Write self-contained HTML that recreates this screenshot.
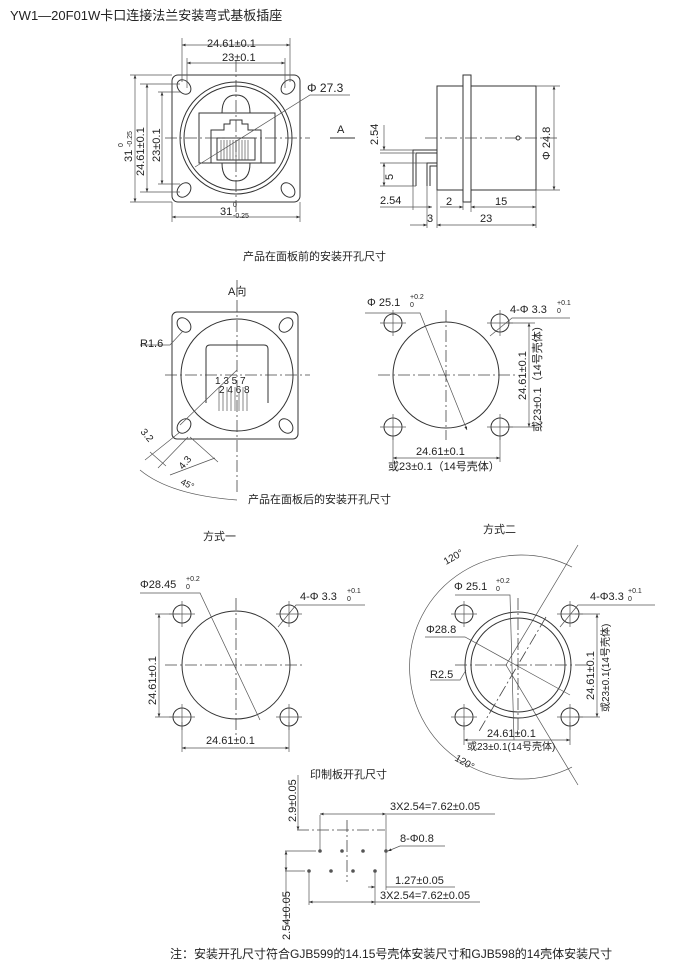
<!DOCTYPE html>
<html><head><meta charset="utf-8"><style>
html,body{margin:0;padding:0;background:#fff;}
svg{display:block;}
text{font-family:"Liberation Sans","Noto Sans CJK SC",sans-serif;fill:#222;}
.l{stroke:#333;stroke-width:1;fill:none;}
.t{stroke:#555;stroke-width:0.7;fill:none;}
.c{stroke:#444;stroke-width:0.8;fill:none;stroke-dasharray:12 3 2 3;}
</style></head><body>
<svg width="700" height="970" viewBox="0 0 700 970" xmlns="http://www.w3.org/2000/svg">
<defs><marker id="a" markerWidth="6" markerHeight="6" refX="5" refY="3" orient="auto-start-reverse"><path d="M0,1 L5,3 L0,5z" fill="#333"/></marker></defs>
<text x="10" y="20" font-size="13" fill="#444">YW1—20F01W卡口连接法兰安装弯式基板插座</text>

<!-- front view -->
<rect class="l" x="172" y="75" width="128" height="127" rx="6"/>
<circle class="l" cx="236" cy="138" r="56"/>
<circle class="l" cx="236" cy="138" r="52"/>
<g class="l">
<ellipse cx="184" cy="87" rx="6" ry="8" transform="rotate(-40 184 87)"/>
<ellipse cx="288" cy="87" rx="6" ry="8" transform="rotate(40 288 87)"/>
<ellipse cx="184" cy="190" rx="6" ry="8" transform="rotate(40 184 190)"/>
<ellipse cx="288" cy="190" rx="6" ry="8" transform="rotate(-40 288 190)"/>
<path d="M222,113 Q222,95 236,95 Q250,95 250,113"/><path d="M222,163 Q222,181 236,181 Q250,181 250,163"/>
<rect x="199" y="113" width="76" height="50"/>
<path d="M211,163 V130 H224 V124 H230 V120 H242 V124 H248 V130 H261 V163"/>
<rect x="217" y="138" width="38" height="22"/>
</g>
<g class="t"><path d="M221,140 v20 M224,140 v20 M227,140 v20 M230,140 v20 M233,140 v20 M236,140 v20 M239,140 v20 M242,140 v20 M245,140 v20 M248,140 v20"/></g>
<path class="c" d="M165,138 H310 M236,60 V215"/>
<path class="t" d="M195,167 L310,95 H350"/>
<text x="307" y="92" font-size="12">Φ 27.3</text>
<g class="t">
<path d="M182,82 V38 M290,82 V38 M187,88 V58 M285,88 V58"/>
<path d="M182,45 H290" marker-start="url(#a)" marker-end="url(#a)"/>
<path d="M187,63 H285" marker-start="url(#a)" marker-end="url(#a)"/>
<path d="M172,75 H130 M172,202 H130 M180,84 H140 M180,192 H140 M180,92 H158 M180,184 H158"/>
<path d="M135,75 V202" marker-start="url(#a)" marker-end="url(#a)"/>
<path d="M147,84 V192" marker-start="url(#a)" marker-end="url(#a)"/>
<path d="M162,92 V184" marker-start="url(#a)" marker-end="url(#a)"/>
<path d="M172,202 V222 M300,202 V222"/>
<path d="M172,217 H300" marker-start="url(#a)" marker-end="url(#a)"/>
</g>
<text x="207" y="47" font-size="11">24.61±0.1</text>
<text x="222" y="61" font-size="11">23±0.1</text>
<text font-size="11" transform="translate(132,162) rotate(-90)">31</text>
<text font-size="7" transform="translate(123,147) rotate(-90)">0</text>
<text font-size="7" transform="translate(132,147) rotate(-90)">-0.25</text>
<text font-size="11" transform="translate(144,176) rotate(-90)">24.61±0.1</text>
<text font-size="11" transform="translate(160,162) rotate(-90)">23±0.1</text>
<text x="220" y="215" font-size="11">31</text><text x="233" y="207" font-size="7">0</text><text x="233" y="218" font-size="7">-0.25</text>
<path class="l" d="M330,138 H355"/><text x="337" y="133" font-size="11">A</text>

<!-- side view -->
<g class="l">
<rect x="437" y="86" width="99" height="104"/>
<rect x="463" y="75" width="8" height="127" fill="#fff"/>
<path d="M437,150 H413 V186 M437,153 H416 V186 M437,163 H427 V186 M437,166 H430 V186"/>
</g>
<path class="c" d="M425,138 H560"/>
<circle cx="518" cy="138" r="2" class="l"/>
<g class="t">
<path d="M536,86 H560 M536,190 H560 M380,150 H413 M380,153 H415 M380,163 H427 M380,186 H416"/>
<path d="M554,86 V190" marker-start="url(#a)" marker-end="url(#a)"/>
<path d="M384,125 V150" marker-end="url(#a)"/>
<path d="M384,163 V186" marker-start="url(#a)" marker-end="url(#a)"/>
<path d="M413,186 V210 M427,186 V228 M437,190 V228 M463,202 V210 M471,202 V212 M536,190 V228"/>
<path d="M380,207 H413"/><path d="M413,207 H432" marker-end="url(#a)"/>
<path d="M440,207 H463" marker-end="url(#a)"/>
<path d="M471,207 H536" marker-start="url(#a)" marker-end="url(#a)"/>
<path d="M410,225 H427" marker-end="url(#a)"/>
<path d="M437,225 H536" marker-start="url(#a)" marker-end="url(#a)"/>
</g>
<text font-size="11" transform="translate(378,145) rotate(-90)">2.54</text>
<text font-size="11" transform="translate(393,180) rotate(-90)">5</text>
<text font-size="11" transform="translate(550,160) rotate(-90)">Φ 24.8</text>
<text x="380" y="204" font-size="11">2.54</text>
<text x="446" y="205" font-size="11">2</text>
<text x="495" y="205" font-size="11">15</text>
<text x="427" y="222" font-size="11">3</text>
<text x="480" y="222" font-size="11">23</text>
<text x="243" y="260" font-size="11">产品在面板前的安装开孔尺寸</text>

<!-- A view -->
<text x="228" y="295" font-size="11">A向</text>
<rect class="l" x="172" y="312" width="126" height="127" rx="5"/>
<circle class="l" cx="237" cy="375" r="56"/>
<g class="l">
<ellipse cx="184" cy="325" rx="6" ry="8" transform="rotate(-40 184 325)"/>
<ellipse cx="286" cy="325" rx="6" ry="8" transform="rotate(40 286 325)"/>
<ellipse cx="184" cy="426" rx="6" ry="8" transform="rotate(40 184 426)"/>
<ellipse cx="286" cy="426" rx="6" ry="8" transform="rotate(-40 286 426)"/>
<path d="M206,403 V349 Q206,345 210,345 H264 Q268,345 268,349 V403"/>
</g>
<g class="t"><path d="M219,387 v24 M223,392 v19 M227,387 v24 M231,392 v19 M235,387 v24 M239,392 v19 M243,387 v24 M247,392 v19"/></g>
<text x="215" y="384" font-size="10">1 3 5 7</text>
<text x="219" y="393" font-size="10">2 4 6 8</text>
<path class="c" d="M165,375 H310 M237,280 V495"/>
<path class="t" d="M180,425 L237,370 M170,345 L183,331 M140,345 H170"/>
<text x="140" y="347" font-size="11">R1.6</text>
<path class="t" d="M180,432 L145,460 M188,437 L158,468 M190,437 L218,462 M150,452 L166,466 M170,475 L215,458"/>
<path class="t" d="M140,470 Q170,495 237,500"/>
<text font-size="10" transform="translate(140,432) rotate(50)">3.2</text>
<text font-size="10" transform="translate(183,470) rotate(-50)">4.3</text>
<text font-size="9" transform="translate(180,484) rotate(25)">45°</text>
<text x="248" y="503" font-size="11">产品在面板后的安装开孔尺寸</text>

<circle class="l" cx="446" cy="375" r="53"/>
<path class="c" d="M378,375 H515 M446,310 V440"/>
<g class="l"><circle cx="393" cy="323" r="9"/><circle cx="500" cy="323" r="9"/><circle cx="393" cy="427" r="9"/><circle cx="500" cy="427" r="9"/></g>
<path class="t" d="M380,323 H406 M393,310 V336 M487,323 H513 M500,310 V336 M380,427 H406 M393,414 V440 M487,427 H513 M500,414 V440"/>
<path class="t" d="M365,313 H420 L467,430" marker-end="url(#a)"/>
<text x="367" y="306" font-size="11">Φ 25.1</text><text x="410" y="299" font-size="7">+0.2</text><text x="410" y="307" font-size="7">0</text>
<path class="t" d="M490,336 L512,318 H570"/>
<text x="510" y="313" font-size="11">4-Φ 3.3</text><text x="557" y="305" font-size="7">+0.1</text><text x="557" y="313" font-size="7">0</text>
<path class="t" d="M506,323 H535 M506,427 H535 M393,436 V462 M500,436 V462"/>
<path class="t" d="M529,323 V427" marker-start="url(#a)" marker-end="url(#a)"/>
<path class="t" d="M393,458 H500" marker-start="url(#a)" marker-end="url(#a)"/>
<text x="416" y="455" font-size="11">24.61±0.1</text>
<text x="388" y="470" font-size="11">或23±0.1（14号壳体）</text>
<text font-size="11" transform="translate(526,400) rotate(-90)">24.61±0.1</text>
<text font-size="11" transform="translate(541,432) rotate(-90)">或23±0.1（14号壳体）</text>

<!-- 方式一 -->
<text x="203" y="540" font-size="11">方式一</text>
<circle class="l" cx="236" cy="665" r="54"/>
<path class="c" d="M165,665 H305 M236,598 V735"/>
<g class="l"><circle cx="182" cy="614" r="9"/><circle cx="289" cy="614" r="9"/><circle cx="182" cy="717" r="9"/><circle cx="289" cy="717" r="9"/></g>
<path class="t" d="M169,614 H195 M182,601 V627 M276,614 H302 M289,601 V627 M169,717 H195 M182,704 V730 M276,717 H302 M289,704 V730"/>
<path class="t" d="M140,593 H200 L260,720"/>
<text x="140" y="588" font-size="11">Φ28.45</text><text x="186" y="581" font-size="7">+0.2</text><text x="186" y="589" font-size="7">0</text>
<path class="t" d="M278,627 L296,605 H365"/>
<text x="300" y="600" font-size="11">4-Φ 3.3</text><text x="347" y="593" font-size="7">+0.1</text><text x="347" y="601" font-size="7">0</text>
<path class="t" d="M155,614 H180 M155,717 H180 M182,722 V752 M289,722 V752"/>
<path class="t" d="M159,614 V717" marker-start="url(#a)" marker-end="url(#a)"/>
<path class="t" d="M182,748 H289" marker-start="url(#a)" marker-end="url(#a)"/>
<text x="206" y="744" font-size="11">24.61±0.1</text>
<text font-size="11" transform="translate(156,705) rotate(-90)">24.61±0.1</text>

<!-- 方式二 -->
<text x="483" y="533" font-size="11">方式二</text>
<path class="t" d="M572,567 A112,112 0 1 0 572,767"/>
<path class="t" d="M506,665 L578,545 M506,665 L578,785"/>
<text font-size="10" transform="translate(446,565) rotate(-30)">120°</text>
<text font-size="10" transform="translate(454,760) rotate(30)">120°</text>
<circle class="l" cx="518" cy="665" r="53"/>
<circle class="l" cx="518" cy="665" r="47"/>
<path class="c" d="M455,665 H590 M518,598 V735 M546,617 L478,733"/>
<g class="l"><circle cx="464" cy="614" r="9"/><circle cx="570" cy="614" r="9"/><circle cx="464" cy="717" r="9"/><circle cx="570" cy="717" r="9"/></g>
<path class="t" d="M451,614 H477 M464,601 V627 M557,614 H583 M570,601 V627 M451,717 H477 M464,704 V730 M557,717 H583 M570,704 V730"/>
<path class="t" d="M455,595 H510 L514,740"/>
<text x="454" y="590" font-size="11">Φ 25.1</text><text x="496" y="583" font-size="7">+0.2</text><text x="496" y="591" font-size="7">0</text>
<path class="t" d="M425,637 H465 L570,695"/>
<text x="426" y="633" font-size="11">Φ28.8</text>
<path class="t" d="M430,680 H460 L466,670"/>
<text x="430" y="678" font-size="11">R2.5</text>
<path class="t" d="M560,627 L578,605 H655"/>
<text x="590" y="600" font-size="11">4-Φ3.3</text><text x="628" y="593" font-size="7">+0.1</text><text x="628" y="601" font-size="7">0</text>
<path class="t" d="M575,614 H600 M575,717 H600 M464,722 V745 M570,722 V745"/>
<path class="t" d="M597,614 V717" marker-start="url(#a)" marker-end="url(#a)"/>
<path class="t" d="M464,740 H570" marker-start="url(#a)" marker-end="url(#a)"/>
<text x="487" y="737" font-size="11">24.61±0.1</text>
<text x="467" y="750" font-size="10">或23±0.1(14号壳体)</text>
<text font-size="11" transform="translate(594,700) rotate(-90)">24.61±0.1</text>
<text font-size="10" transform="translate(609,712) rotate(-90)">或23±0.1(14号壳体)</text>

<!-- PCB -->
<text x="310" y="778" font-size="11">印制板开孔尺寸</text>
<path class="c" d="M297,830 H385 M347,820 V882"/>
<g fill="#555"><circle cx="320" cy="851" r="1.8"/><circle cx="342" cy="851" r="1.8"/><circle cx="363" cy="851" r="1.8"/><circle cx="386" cy="851" r="1.8"/><circle cx="309" cy="871" r="1.8"/><circle cx="331" cy="871" r="1.8"/><circle cx="353" cy="871" r="1.8"/><circle cx="375" cy="871" r="1.8"/></g>
<g class="t">
<path d="M298,775 V830" marker-end="url(#a)"/>
<path d="M285,851 H316 M285,871 H305"/>
<path d="M286,851 V871" marker-start="url(#a)" marker-end="url(#a)"/>
<path d="M286,871 V925"/>
<path d="M320,815 V851 M386,815 V890"/>
<path d="M320,814 H386" marker-start="url(#a)" marker-end="url(#a)"/><path d="M386,814 H495"/>
<path d="M445,846 H400 L388,851" marker-end="url(#a)"/>
<path d="M368,887 H375" marker-end="url(#a)"/><path d="M386,887 H455"/>
<path d="M309,871 V905 M375,871 V905"/>
<path d="M309,902 H375" marker-start="url(#a)" marker-end="url(#a)"/><path d="M375,902 H480"/>
</g>
<text font-size="11" transform="translate(296,822) rotate(-90)">2.9±0.05</text>
<text x="390" y="810" font-size="11">3X2.54=7.62±0.05</text>
<text x="400" y="842" font-size="11">8-Φ0.8</text>
<text x="395" y="884" font-size="11">1.27±0.05</text>
<text x="380" y="899" font-size="11">3X2.54=7.62±0.05</text>
<text font-size="11" transform="translate(290,940) rotate(-90)">2.54±0.05</text>

<text x="170" y="958" font-size="12">注：安装开孔尺寸符合GJB599的14.15号壳体安装尺寸和GJB598的14壳体安装尺寸</text>
</svg>
</body></html>
